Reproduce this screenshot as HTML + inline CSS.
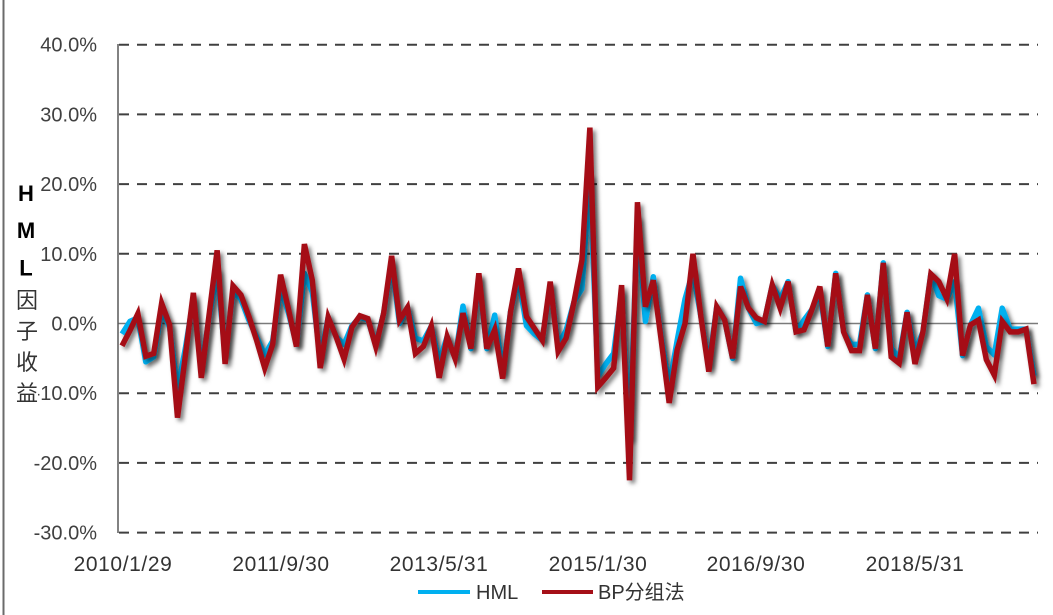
<!DOCTYPE html>
<html><head><meta charset="utf-8"><style>
html,body{margin:0;padding:0;background:#fff;}
svg{display:block;}
text{font-family:"Liberation Sans","Noto Sans CJK SC",sans-serif;}
</style></head><body>
<svg width="1053" height="615" viewBox="0 0 1053 615" xmlns="http://www.w3.org/2000/svg">
<defs>
<filter id="sh" x="-5%" y="-10%" width="110%" height="120%">
<feDropShadow dx="3" dy="3" stdDeviation="2" flood-color="#000" flood-opacity="0.5"/>
</filter>
</defs>
<rect width="1053" height="615" fill="#fff"/>
<line x1="3.5" y1="0" x2="3.5" y2="615" stroke="#6b6b6b" stroke-width="2"/>
<g stroke="#404040" stroke-width="2" stroke-dasharray="10 8" fill="none">
<line x1="119" y1="44.7" x2="1038" y2="44.7"/>
<line x1="119" y1="114.4" x2="1038" y2="114.4"/>
<line x1="119" y1="184.1" x2="1038" y2="184.1"/>
<line x1="119" y1="253.8" x2="1038" y2="253.8"/>
<line x1="119" y1="393.2" x2="1038" y2="393.2"/>
<line x1="119" y1="462.9" x2="1038" y2="462.9"/>
<line x1="119" y1="532.6" x2="1038" y2="532.6"/>
</g>
<line x1="118" y1="323.5" x2="1038" y2="323.5" stroke="#7a7a7a" stroke-width="1.5"/>
<line x1="118" y1="44" x2="118" y2="533" stroke="#595959" stroke-width="1.5"/>
<g font-size="20" fill="#404040" text-anchor="end">
<text x="97" y="51.7">40.0%</text>
<text x="97" y="121.4">30.0%</text>
<text x="97" y="191.1">20.0%</text>
<text x="97" y="260.8">10.0%</text>
<text x="97" y="330.5">0.0%</text>
<text x="97" y="400.2">-10.0%</text>
<text x="97" y="469.9">-20.0%</text>
<text x="97" y="539.6">-30.0%</text>
</g>
<rect x="8" y="378" width="30" height="30" fill="#fff"/>
<g font-size="22" font-weight="bold" fill="#000" text-anchor="middle">
<text x="26" y="201">H</text>
<text x="26" y="238">M</text>
<text x="26" y="275.5">L</text>
</g>
<g font-size="22" fill="#333" text-anchor="middle" style="font-family:'Noto Sans CJK SC',sans-serif">
<text x="27" y="308">因</text>
<text x="27" y="339">子</text>
<text x="27" y="370">收</text>
<text x="27" y="401">益</text>
</g>
<g font-size="21" fill="#333" text-anchor="middle" letter-spacing="0.6">
<text x="123" y="571">2010/1/29</text>
<text x="281" y="571">2011/9/30</text>
<text x="439" y="571">2013/5/31</text>
<text x="598" y="571">2015/1/30</text>
<text x="756" y="571">2016/9/30</text>
<text x="915" y="571">2018/5/31</text>
</g>
<g filter="url(#sh)">
<polyline transform="matrix(7.93 0 0 -6.97 122 323.5)" vector-effect="non-scaling-stroke" fill="none" stroke="#00B0F0" stroke-width="5.5" stroke-linejoin="round" points="0,-1.5 1,0.3 2,0.8 3,-5.5 4,-4.8 5,1.8 6,-0.5 7,-9.5 8,-3.5 9,3.5 10,-6.5 11,1 12,7.5 13,-4.5 14,4.5 15,3.5 16,0.5 17,-2 18,-4.5 19,-2.5 20,5 21,1.5 22,-3 23,7.2 24,4.5 25,-5 26,0.9 27,-1.9 28,-3 29,-0.3 30,0.9 31,0.5 32,-3 33,1.5 34,8.7 35,0 36,2.3 37,-2.1 38,-2.5 39,-0.4 40,-5.5 41,-1.9 42,-5 43,2.5 44,-3.6 45,6.5 46,-3.6 47,1.2 48,-7 49,1.7 50,6.5 51,-0.3 52,-1.5 53,-2.4 54,5.5 55,-3 56,-1 57,3.1 58,5 59,21 60,-7.6 61,-5.8 62,-4.3 63,4.5 64,-16.5 65,15 66,0.3 67,6.7 68,-2 69,-9 70,-2.5 71,3.5 72,7.5 73,1 74,-6 75,2.4 76,0.5 77,-5 78,6.5 79,2.2 80,0 81,0.3 82,5.5 83,3.5 84,6 85,-1.2 86,0.5 87,2 88,4.5 89,-3.3 90,7.2 91,-1.2 92,-3 93,-3 94,4.1 95,-3.6 96,8.7 97,-3.5 98,-5 99,1.6 100,-4 101,-1.2 102,7.1 103,4 104,3.5 105,6 106,-4.6 107,-0.2 108,2.2 109,-3.3 110,-4.5 111,2.2 112,-0.8 113,-0.8 114,-0.8 115,-7.5"/>
</g>
<g filter="url(#sh)">
<polyline transform="matrix(7.93 0 0 -6.97 122 323.5)" vector-effect="non-scaling-stroke" fill="none" stroke="#A50F18" stroke-width="5.5" stroke-linejoin="miter" stroke-miterlimit="4" points="0,-3.2 1,-1 2,1.4 3,-4.7 4,-4.3 5,2.9 6,-0.2 7,-13.5 8,-4.5 9,4.4 10,-7.8 11,1.4 12,10.5 13,-5.8 14,5.4 15,4.1 16,1 17,-2.5 18,-6.4 19,-3 20,7 21,2 22,-3.3 23,11.4 24,6.2 25,-6.4 26,0.9 27,-1.9 28,-5.1 29,-0.5 30,1.1 31,0.7 32,-3.3 33,1.5 34,9.7 35,0.5 36,2.3 37,-4.3 38,-3.3 39,-0.4 40,-7.8 41,-1.9 42,-5 43,1.5 44,-3.6 45,7.2 46,-3.6 47,-0.9 48,-7.9 49,1.7 50,7.9 51,1 52,-0.7 53,-2.4 54,6 55,-4 56,-2.1 57,3.1 58,9.1 59,28.1 60,-9.1 61,-7.8 62,-6.4 63,5.5 64,-22.5 65,17.4 66,2.4 67,6.2 68,-2.4 69,-11.4 70,-3.8 71,0 72,10 73,1 74,-6.9 75,2.4 76,0.5 77,-5 78,5.3 79,2.2 80,0.8 81,0.3 82,5.5 83,2.2 84,6 85,-1.2 86,-0.9 87,2 88,5.3 89,-3.3 90,7.2 91,-1.2 92,-3.9 93,-3.9 94,4.1 95,-3.6 96,8.7 97,-4.8 98,-5.7 99,1.6 100,-5.8 101,-1.2 102,7.1 103,6 104,3.6 105,10 106,-4.6 107,-0.2 108,0.5 109,-5.2 110,-7.4 111,0.3 112,-1.2 113,-1.2 114,-0.8 115,-8.7"/>
</g>
<line x1="418" y1="592" x2="470" y2="592" stroke="#00B0F0" stroke-width="4"/>
<text x="476" y="599" font-size="20" fill="#333">HML</text>
<line x1="542" y1="592" x2="593" y2="592" stroke="#A50F18" stroke-width="4"/>
<text x="598" y="599" font-size="20" fill="#333">BP分组法</text>
</svg>
</body></html>
